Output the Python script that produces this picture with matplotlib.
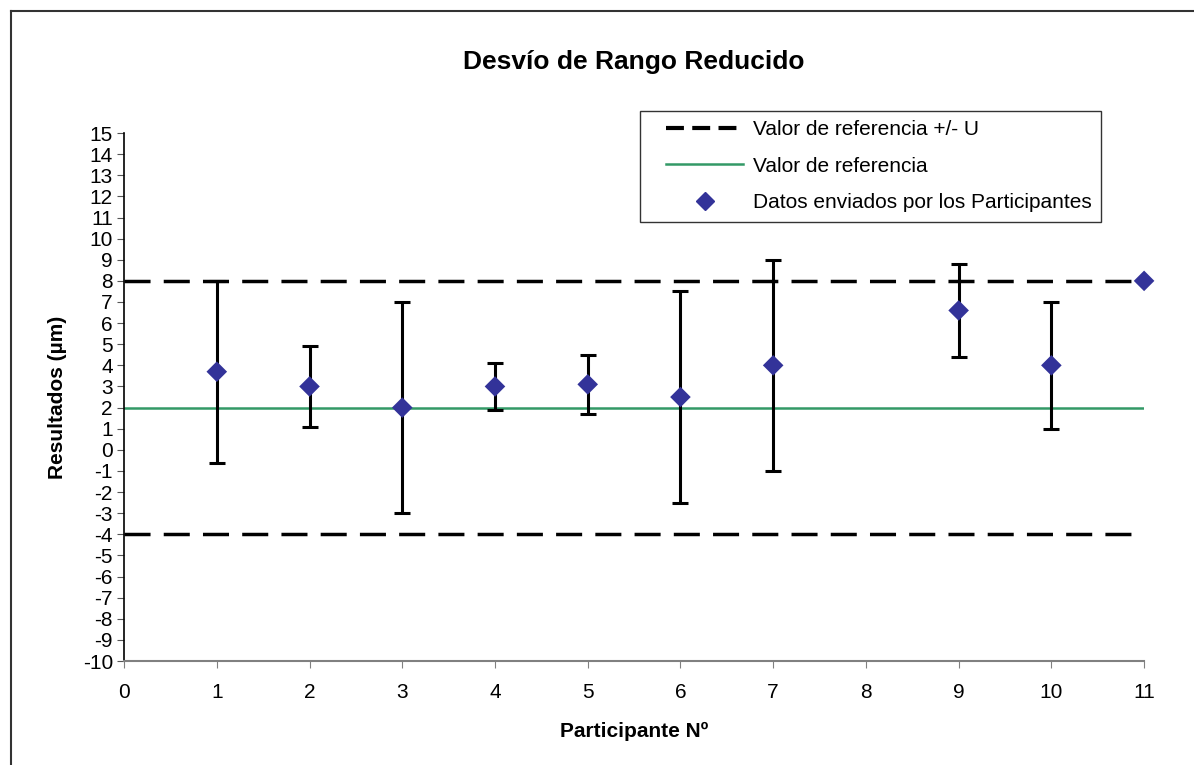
import matplotlib.pyplot as plt
from matplotlib.lines import Line2D
from matplotlib.legend_handler import HandlerLine2D

plt.rcParams['font.family'] = ['Liberation Sans', 'DejaVu Sans']
plt.rcParams['axes.unicode_minus'] = False

# participant results with their uncertainty limits
participants = [1, 2, 3, 4, 5, 6, 7, 9, 10, 11]
results = [3.7, 3.0, 2.0, 3.0, 3.1, 2.5, 4.0, 6.6, 4.0, 8.0]
upper_limits = [8.0, 4.9, 7.0, 4.1, 4.5, 7.5, 9.0, 8.8, 7.0, 8.0]
lower_limits = [-0.6, 1.1, -3.0, 1.9, 1.7, -2.5, -1.0, 4.4, 1.0, 8.0]

ref_value = 2.0
ref_upper = 8.0
ref_lower = -4.0

x_ticks = list(range(0, 12))
y_ticks = list(range(-10, 16))

green = '#339966'
navy = '#333399'


class IndentedLine(HandlerLine2D):
    # pushes the legend sample to the right, leaving room on its left side
    def __init__(self, indent=12, **kw):
        super().__init__(**kw)
        self.indent = indent

    def adjust_drawing_area(self, legend, orig_handle, xdescent, ydescent,
                            width, height, fontsize):
        xd, yd, w, h = super().adjust_drawing_area(
            legend, orig_handle, xdescent, ydescent, width, height, fontsize)
        return xd - self.indent, yd, w - self.indent, h


fig = plt.figure(figsize=(11.94, 7.65), dpi=100)
ax = fig.add_axes([0.1039, 0.1359, 0.8543, 0.6902])

# outer chart frame
fig.add_artist(Line2D([0.0092, 0.0092], [0, 0.9856], color='#333333', lw=1.5, transform=fig.transFigure))
fig.add_artist(Line2D([0.0092, 1.0], [0.9856, 0.9856], color='#333333', lw=1.5, transform=fig.transFigure))

ax.plot([0, 11], [ref_upper, ref_upper], color='black', lw=2.5, dashes=(7.5, 3.8), zorder=2)
ax.plot([0, 11], [ref_lower, ref_lower], color='black', lw=2.5, dashes=(7.5, 3.8), zorder=2)
ax.plot([0, 11], [ref_value, ref_value], color=green, lw=1.8, zorder=2)

yerr_low = [r - lo for r, lo in zip(results, lower_limits)]
yerr_high = [hi - r for r, hi in zip(results, upper_limits)]
ax.errorbar(participants, results, yerr=[yerr_low, yerr_high], fmt='none',
            ecolor='black', elinewidth=2.2, capsize=5.5, capthick=2.2, zorder=3)
ax.scatter(participants, results, marker='D', s=110, color=navy, zorder=4,
           edgecolors='none', clip_on=False)

ax.set_xlim(0, 11)
ax.set_ylim(-10, 15)
ax.set_xticks(x_ticks)
ax.set_yticks(y_ticks)
ax.tick_params(axis='both', labelsize=15)
ax.tick_params(axis='x', direction='out', length=5, color='#808080', pad=11)
ax.tick_params(axis='y', direction='out', length=5, color='#555555', pad=3)

for s in ['top', 'right']:
    ax.spines[s].set_visible(False)
ax.spines['bottom'].set_color('#808080')
ax.spines['bottom'].set_linewidth(1.5)
ax.spines['left'].set_color('black')
ax.spines['left'].set_linewidth(1.2)

ax.set_title('Desvío de Rango Reducido', fontsize=19, fontweight='bold', pad=46)
ax.set_xlabel('Participante Nº', fontsize=15, fontweight='bold', labelpad=14)
ax.set_ylabel('Resultados (µm)', fontsize=15, fontweight='bold', labelpad=11)

dash_h = Line2D([], [], color='black', lw=3, dashes=(4.3, 2.0))
ref_h = Line2D([], [], color=green, lw=1.8)
pts_h = Line2D([], [], color=navy, marker='D', markersize=9, lw=0)
labels = ['Valor de referencia +/- U', 'Valor de referencia',
          'Datos enviados por los Participantes']
leg = ax.legend([dash_h, ref_h, pts_h], labels, loc='upper left',
                bbox_to_anchor=(0.506, 1.042),
                handler_map={dash_h: IndentedLine(), ref_h: IndentedLine(),
                             pts_h: IndentedLine()},
                fontsize=15, frameon=True, fancybox=False, edgecolor='black',
                handlelength=4.5, handletextpad=0.45, labelspacing=0.84,
                borderpad=0.45, borderaxespad=0)
leg.get_frame().set_linewidth(1.0)

fig.savefig('out.png', dpi=100, facecolor='white')
